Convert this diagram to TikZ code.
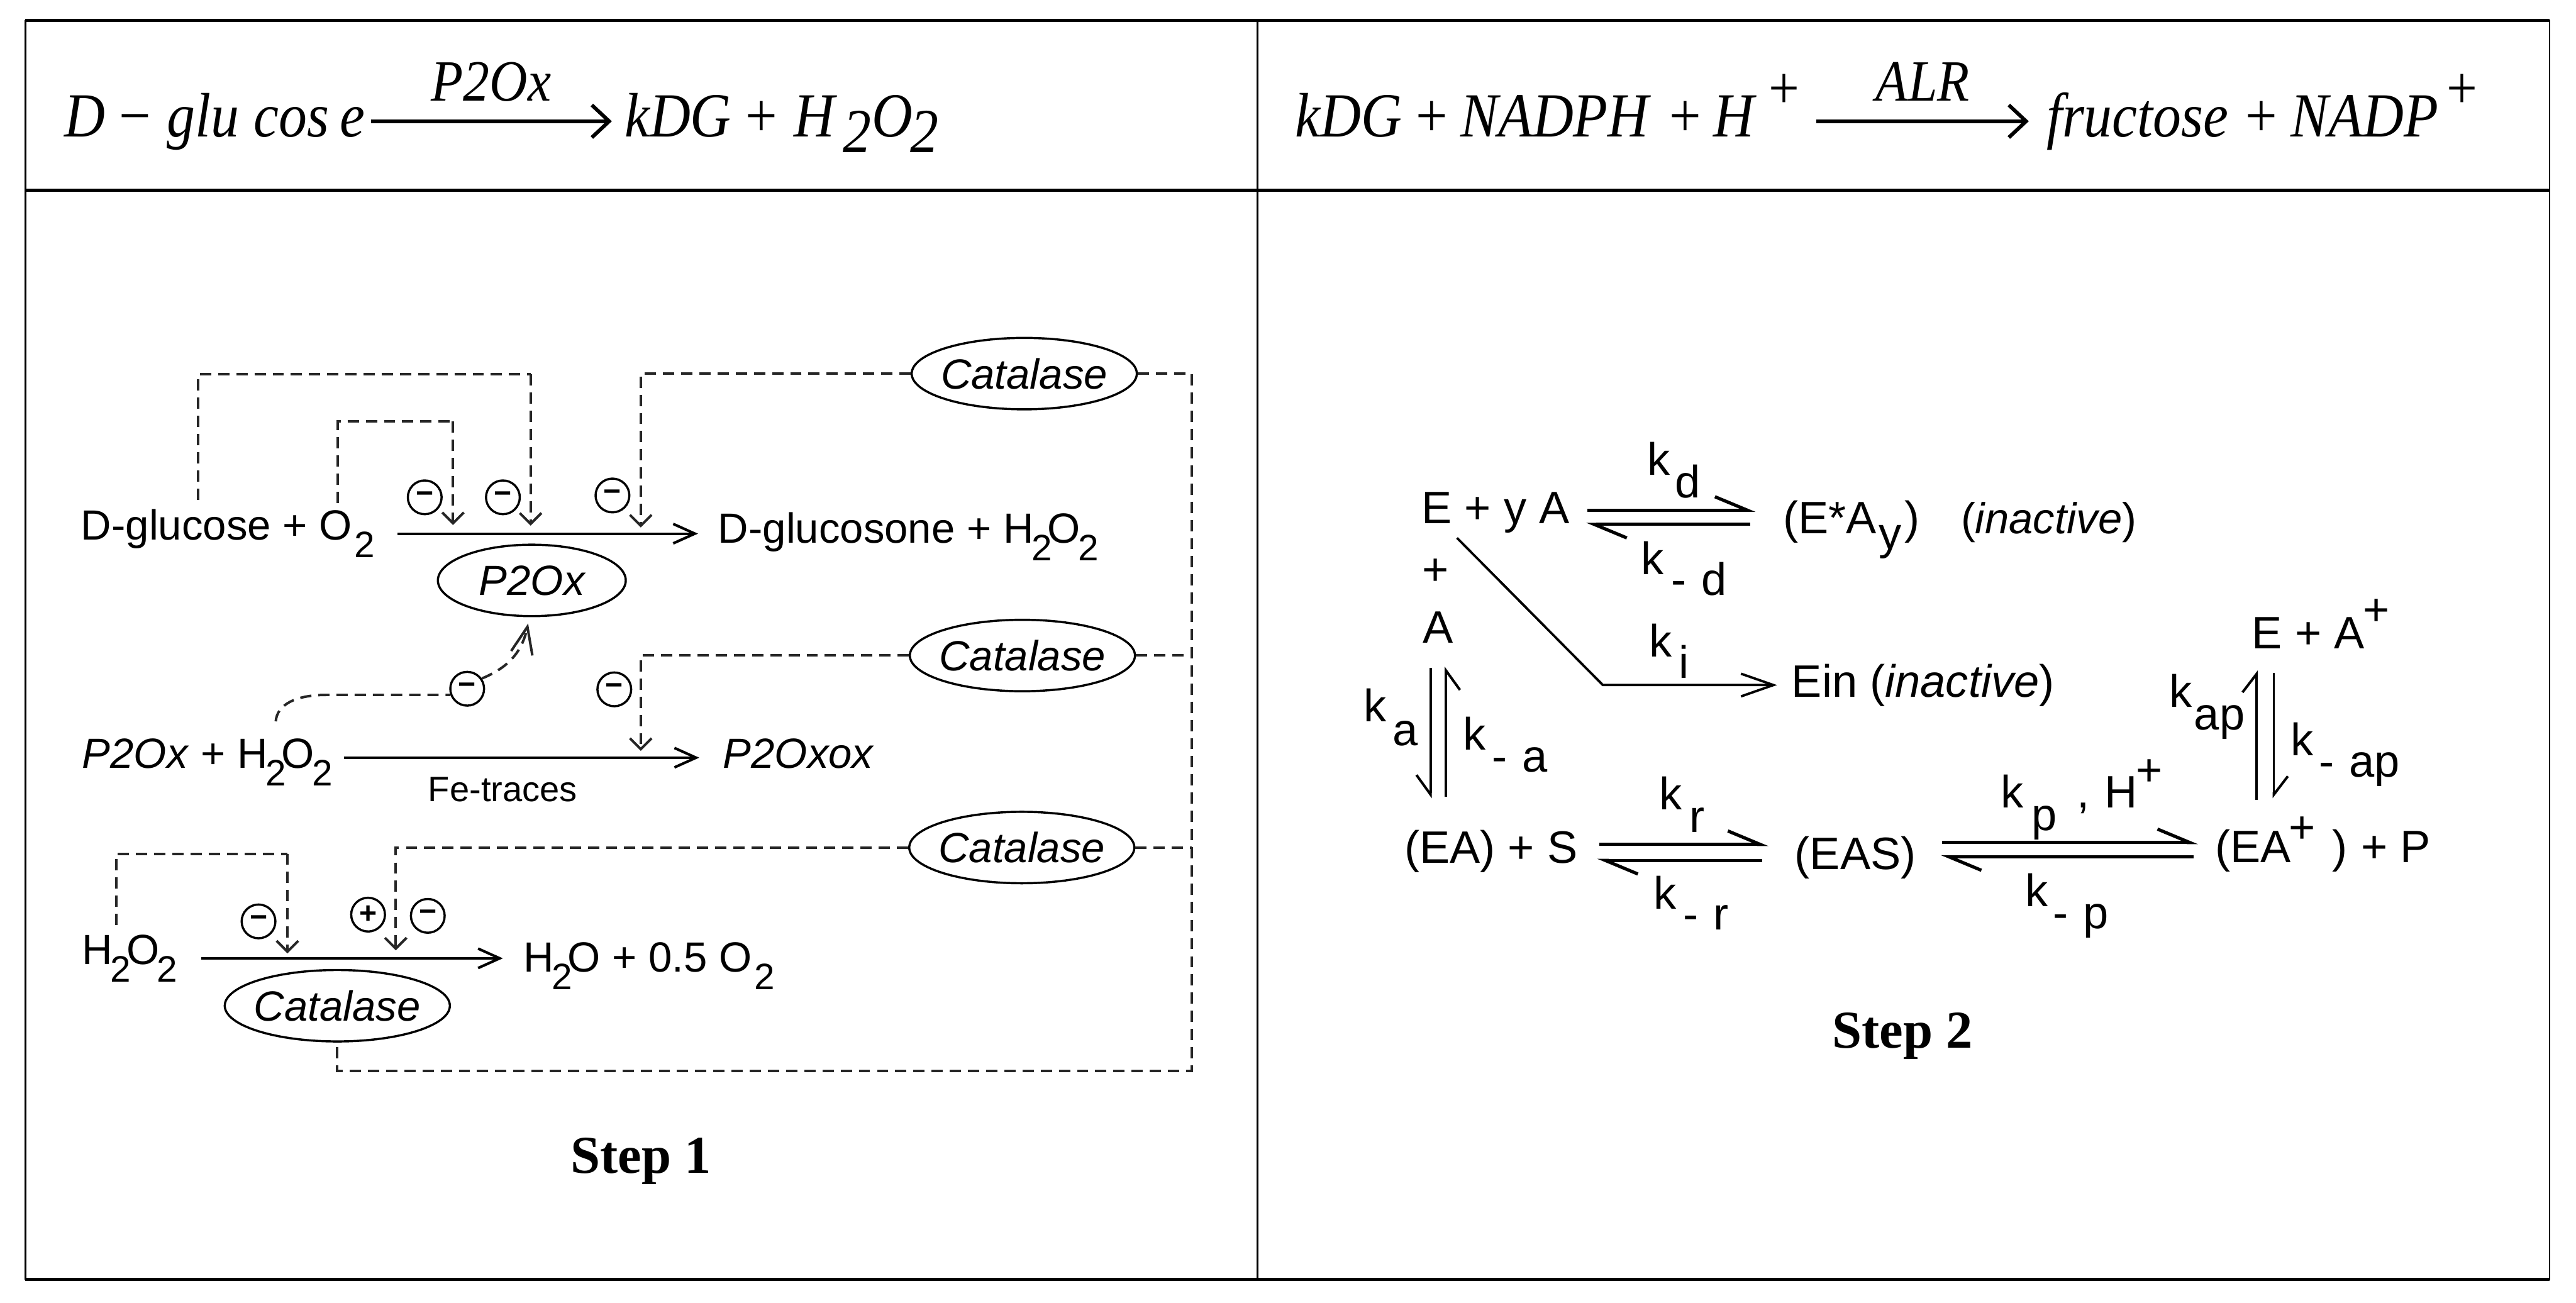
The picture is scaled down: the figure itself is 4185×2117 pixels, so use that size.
\documentclass[tikz,border=0pt]{standalone}
\usepackage{fontspec}
\setmainfont{Liberation Sans}
\newfontfamily\topserif[FakeStretch=0.9]{Liberation Serif}
\newfontfamily\capserif{Liberation Serif}
\usetikzlibrary{arrows.meta,shapes.geometric}
\newcommand\tx[4]{\node[txt] (#1) at (#2,#3) {#4};}
\newcommand\tpx[4]{\node[toptxt] (#1) at (#2,#3) {#4};}
\newcommand\sbb[1]{\kern-.05em\raisebox{-.42em}{\fontsize{17}{18}\selectfont #1}\kern-.11em}
\newcommand\kk[6]{\tx{#1}{#2}{#3}{k}\tx{#1s}{#4}{#5}{#6}}
\tikzset{
  txt/.style={anchor=base west,inner sep=0pt,font=\fontsize{19.5}{22}\selectfont},
  toptxt/.style={anchor=base west,inner sep=0pt,font=\topserif\itshape\fontsize{29}{32}\selectfont},
  topplus/.style={anchor=base,inner sep=0pt,font=\topserif\fontsize{29}{32}\selectfont},
  topsup/.style={anchor=base,inner sep=0pt,font=\topserif\fontsize{28}{30}\selectfont},
  steplabel/.style={anchor=base,inner sep=0pt,font=\capserif\bfseries\fontsize{24.6}{28}\selectfont},
  frameh/.style={line width=1.4pt,black},
  framev/.style={line width=.85pt,black},
  enz/.style={draw,ellipse,line width=1pt,minimum width=104pt,minimum height=33pt,inner xsep=-4pt,inner ysep=0pt,font=\itshape\fontsize{19.5}{22}\selectfont},
  sign/.style={draw,circle,line width=1pt,minimum size=15.6pt,inner sep=0pt,font=\bfseries\fontsize{14}{14}\selectfont},
  dsh/.style={line width=1.15pt,dash pattern=on 5.2pt off 3.2pt,black!85},
  dsharr/.style={dsh,-{Straight Barb[length=5pt,width=10pt]}},
  rxn/.style={line width=1.2pt,-{Straight Barb[length=10pt,width=9pt]}},
  toparr/.style={line width=1.7pt,-{Straight Barb[length=8pt,width=15pt]}},
  hleft/.style={line width=1.5pt,-{Straight Barb[left,length=15pt,width=12.5pt]}},
  vleft/.style={line width=1.15pt,-{Straight Barb[left,length=8.5pt,width=13pt]}},
  vright/.style={line width=1.15pt,-{Straight Barb[right,length=9pt,width=13pt]}},
}
\begin{document}
\begin{tikzpicture}[x=0.01cm,y=-0.01cm]
\useasboundingbox[fill=white] (0,0) rectangle (4185,2117);
% table frame
\coordinate (tl) at (41,33); \coordinate (tr) at (4142,33);
\coordinate (ml) at (41,309); \coordinate (mr) at (4142,309);
\coordinate (bl) at (41,2079); \coordinate (br) at (4142,2079);
\coordinate (tm) at (2043,33); \coordinate (bm) at (2043,2079);
\draw[frameh] (tl) -- (tr);
\draw[frameh] (ml) -- (mr);
\draw[frameh] (bl) -- (br);
\draw[framev] (tl) -- (bl);
\draw[framev] (tm) -- (bm);
\draw[framev] (tr) -- (br);

% header equation left
\tpx{hD}{104}{222}{D}
\node[topplus] (hm) at (220,222) {−};
\tpx{hglu}{271}{222}{glu}
\tpx{hcos}{412}{222}{cos}
\tpx{he}{552}{222}{e}
\coordinate (ha1) at (603,197); \coordinate (ha2) at (994,197);
\draw[toparr] (ha1) -- (ha2);
\node[toptxt,font=\topserif\itshape\fontsize{27}{30}\selectfont] (hp2) at (700,164) {P2Ox};
\tpx{hkdg}{1014}{222}{kDG}
\node[topplus] (hpl) at (1237,222) {+};
\tpx{hH}{1289}{222}{H}
\tpx{h2a}{1369}{248}{2}
\tpx{hO}{1416}{222}{O}
\tpx{h2b}{1478}{248}{2}

% header equation right
\tpx{rkdg}{2104}{222}{kDG}
\node[topplus] (rp1) at (2326,222) {+};
\tpx{rnad}{2372}{222}{NADPH}
\node[topplus] (rp2) at (2738,222) {+};
\tpx{rH}{2783}{222}{H}
\node[topsup] (rsp1) at (2899,176) {+};
\coordinate (ra1) at (2951,197); \coordinate (ra2) at (3296,197);
\draw[toparr] (ra1) -- (ra2);
\node[toptxt,font=\topserif\itshape\fontsize{27}{30}\selectfont] (ralr) at (3047,164) {ALR};
\tpx{rfru}{3324}{222}{fructose}
\node[topplus] (rp3) at (3674,222) {+};
\tpx{rnadp}{3721}{222}{NADP}
\node[topsup] (rsp2) at (4000,176) {+};

% Step 1: first reaction
\tx{glc}{131}{877}{D-glucose + O\kern.1em\sbb{2}}
\tx{glcn}{1166}{882}{D-glucosone + H\sbb{2}O\sbb{2}}
\coordinate (r1a) at (646,867); \coordinate (r1b) at (1134,867);
\draw[rxn] (r1a) -- (r1b);
\node[enz,minimum width=86.8pt] (p2ox) at (864,943) {P2Ox};
\node[sign] (m1) at (690,808) {−};
\node[sign] (m2) at (817,808) {−};
\node[sign] (m3) at (995,805) {−};
\coordinate (d1s) at (322,812); \coordinate (d1c) at (862,608); \coordinate (d1t) at (862,854);
\draw[dsh] (d1s) |- (d1c);
\draw[dsharr] (d1c) -- (d1t);
\coordinate (d2s) at (549,817); \coordinate (d2c) at (736,685); \coordinate (d2t) at (736,853);
\draw[dsh] (d2s) |- (d2c);
\draw[dsharr] (d2c) -- (d2t);
\node[enz] (cat1) at (1664,607) {Catalase};
\coordinate (d3t) at (1041,857);
\draw[dsharr] (cat1.west) -| (d3t);

% Step 1: second reaction
\node[txt] (p2h) at (133,1248) {\textit{P2Ox} + H\sbb{2}O\sbb{2}};
\node[txt] (p2oo) at (1174,1248) {\textit{P2Oxox}};
\coordinate (r2a) at (559,1231); \coordinate (r2b) at (1136,1231);
\draw[rxn] (r2a) -- (r2b);
\node[txt,font=\fontsize{16.3}{18}\selectfont] (fe) at (695,1302) {Fe-traces};
\node[sign] (m4) at (998,1120) {−};
\node[sign] (m5) at (759,1119) {−};
\node[enz] (cat2) at (1661,1065) {Catalase};
\coordinate (d4t) at (1041,1220);
\draw[dsharr] (cat2.west) -| (d4t);
\coordinate (c1) at (448,1172); \coordinate (c2) at (530,1129);
\draw[dsh] (c1) .. controls (450,1145) and (480,1129) .. (c2) -- (m5.200);
\coordinate (c3) at (858,1013);
\draw[dsh,-{Straight Barb[length=12.5pt,width=10pt]}] (m5.35) .. controls (825,1085) and (848,1060) .. (c3);

% Step 1: third reaction
\tx{h2o2}{133}{1567}{H\sbb{2}O\sbb{2}}
\tx{h2o}{850}{1579}{H\sbb{2}O + 0.5 O\kern.1em\sbb{2}}
\coordinate (r3a) at (327,1557); \coordinate (r3b) at (817,1557);
\draw[rxn] (r3a) -- (r3b);
\node[enz] (cat4) at (548,1634) {Catalase};
\node[sign] (m6) at (420,1497) {−};
\node[sign] (p1) at (598,1486) {+};
\node[sign] (m7) at (695,1488) {−};
\coordinate (d5s) at (189,1503); \coordinate (d5c) at (467,1387); \coordinate (d5t) at (467,1549);
\draw[dsh] (d5s) |- (d5c);
\draw[dsharr] (d5c) -- (d5t);
\node[enz] (cat3) at (1660,1377) {Catalase};
\coordinate (d6t) at (643,1544);
\draw[dsharr] (cat3.west) -| (d6t);

% Catalase bus
\coordinate (busb) at (1936,1740);
\coordinate (bus2) at (1936,1065);
\coordinate (bus3) at (1936,1377);
\draw[dsh] (cat1.east) -| (busb) -| (cat4.south);
\draw[dsh] (cat2.east) -- (bus2);
\draw[dsh] (cat3.east) -- (bus3);
\node[steplabel] (st1) at (1041,1906) {Step 1};

% Step 2
\tikzset{txt/.append style={font=\fontsize{21}{24}\selectfont}}
\tx{e1}{2309}{851}{E + y A}
\tx{eay}{2896}{867}{(E*A}
\tx{eayy}{3052}{892}{y}
\tx{eayc}{3094}{867}{)}
\node[txt,font=\fontsize{20}{24}\selectfont] (einact) at (3185,867) {(\textit{inactive})};
\coordinate (a1a) at (2579,829); \coordinate (a1b) at (2852,829);
\coordinate (a2a) at (2843,852); \coordinate (a2b) at (2577,852);
\draw[hleft] (a1a) -- (a1b);
\draw[hleft] (a2a) -- (a2b);
\kk{kd}{2676}{772}{2721}{809}{d}
\kk{kmd}{2665}{933}{2714}{967}{-\,\,d}
\tx{eplus}{2310}{951}{+}
\tx{eA}{2311}{1045}{A}
\coordinate (diag1) at (2367,874); \coordinate (diag2) at (2604,1113); \coordinate (diag3) at (2887,1113);
\draw[line width=1.1pt,-{Straight Barb[length=15pt,width=10.5pt]}] (diag1) -- (diag2) -- (diag3);
\kk{ki}{2679}{1067}{2727}{1102}{i}
\tx{ein}{2910}{1133}{Ein (\textit{inactive})}
\kk{ka}{2215}{1172}{2262}{1211}{a}
\coordinate (v1a) at (2324,1085); \coordinate (v1b) at (2324,1297);
\coordinate (v2a) at (2349,1294); \coordinate (v2b) at (2349,1083);
\draw[vright] (v1a) -- (v1b);
\draw[vright] (v2a) -- (v2b);
\kk{kma}{2376}{1218}{2423}{1254}{-\,\,a}
\tx{eas}{2281}{1402}{(EA) + S}
\coordinate (a3a) at (2598,1372); \coordinate (a3b) at (2873,1372);
\coordinate (a4a) at (2863,1398); \coordinate (a4b) at (2595,1398);
\draw[hleft] (a3a) -- (a3b);
\draw[hleft] (a4a) -- (a4b);
\kk{kr}{2695}{1315}{2744}{1352}{r}
\kk{kmr}{2686}{1477}{2734}{1511}{-\,\,r}
\tx{eass}{2915}{1412}{(EAS)}
\coordinate (a5a) at (3155,1369); \coordinate (a5b) at (3571,1369);
\coordinate (a6a) at (3564,1392); \coordinate (a6b) at (3153,1392);
\draw[hleft] (a5a) -- (a5b);
\draw[hleft] (a6a) -- (a6b);
\kk{kp}{3250}{1312}{3300}{1349}{p}
\tx{comma}{3374}{1312}{,}
\tx{hplus}{3418}{1312}{H}
\node[txt,anchor=center] (hplussup) at (3492,1255) {+};
\kk{kmp}{3290}{1473}{3335}{1509}{-\,\,p}
\tx{eap}{3598}{1401}{(EA}
\node[txt,anchor=center] (eapsup) at (3740,1348) {+};
\tx{eapc}{3788}{1401}{)}
\tx{eapp}{3835}{1401}{+ P}
\tx{ea}{3658}{1054}{E + A}
\node[txt,anchor=center] (easup) at (3861,995) {+};
\coordinate (v3a) at (3666,1300); \coordinate (v3b) at (3666,1089);
\coordinate (v4a) at (3694,1093); \coordinate (v4b) at (3694,1297);
\draw[vleft] (v3a) -- (v3b);
\draw[vleft] (v4a) -- (v4b);
\kk{kap}{3524}{1149}{3564}{1186}{ap}
\kk{kmap}{3721}{1228}{3767}{1262}{-\,\,ap}
\node[steplabel] (st2) at (3091,1703) {Step 2};
\end{tikzpicture}
\end{document}
